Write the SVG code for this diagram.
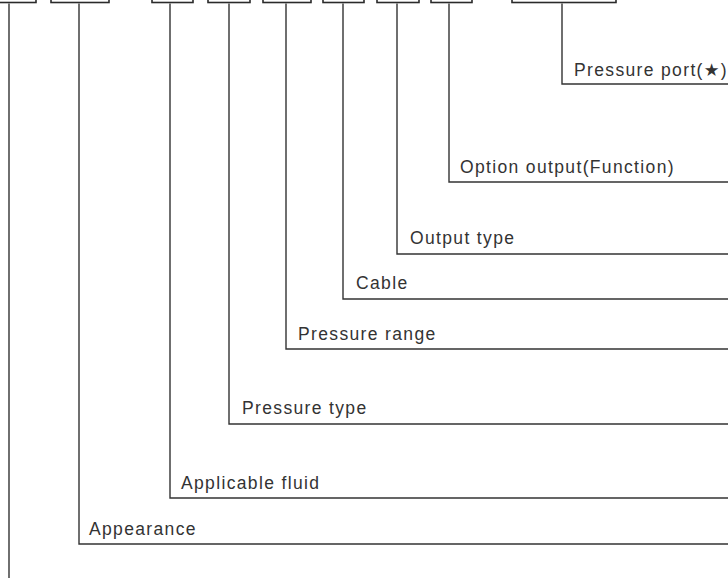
<svg xmlns="http://www.w3.org/2000/svg" width="728" height="578" viewBox="0 0 728 578">
<style>
.box{fill:#fff;stroke:#2a2a2a;stroke-width:1.6}
.ln{fill:none;stroke:#333;stroke-width:1.4}
.lbl{font-family:"Liberation Sans",Arial,"DejaVu Sans",sans-serif;font-size:17.5px;fill:#333;letter-spacing:1.35px}
</style>
<rect width="728" height="578" fill="#fff"/>
<g id="boxes">
<g id="box1"><rect class="box" x="-10" y="-20" width="46" height="22.5"/></g>
<g id="box2"><rect class="box" x="51" y="-20" width="58" height="22.5"/></g>
<g id="box3"><rect class="box" x="152" y="-20" width="41" height="22.5"/></g>
<g id="box4"><rect class="box" x="208" y="-20" width="42" height="22.5"/></g>
<g id="box5"><rect class="box" x="263" y="-20" width="48" height="22.5"/></g>
<g id="box6"><rect class="box" x="323" y="-20" width="41" height="22.5"/></g>
<g id="box7"><rect class="box" x="377" y="-20" width="42" height="22.5"/></g>
<g id="box8"><rect class="box" x="431" y="-20" width="41" height="22.5"/></g>
<g id="box9"><rect class="box" x="512" y="-20" width="104" height="22.5"/></g>
</g>
<g id="connectors">
<path class="ln" d="M9 3.5V578"/>
<path class="ln" d="M79 3.5V544H728"/>
<path class="ln" d="M170 3.5V498H728"/>
<path class="ln" d="M229 3.5V424H728"/>
<path class="ln" d="M286 3.5V349H728"/>
<path class="ln" d="M343 3.5V299H728"/>
<path class="ln" d="M397 3.5V254H728"/>
<path class="ln" d="M449 3.5V182H728"/>
<path class="ln" d="M562 3.5V84H728"/>
</g>
<g id="labels">
<g id="lbl-port"><text class="lbl" x="574" y="76">Pressure port(★)</text></g>
<g id="lbl-option"><text class="lbl" x="460" y="173">Option output(Function)</text></g>
<g id="lbl-output"><text class="lbl" x="410" y="244">Output type</text></g>
<g id="lbl-cable"><text class="lbl" x="356" y="289">Cable</text></g>
<g id="lbl-range"><text class="lbl" x="298" y="340">Pressure range</text></g>
<g id="lbl-type"><text class="lbl" x="242" y="414">Pressure type</text></g>
<g id="lbl-fluid"><text class="lbl" x="181" y="489">Applicable fluid</text></g>
<g id="lbl-appearance"><text class="lbl" x="89" y="535">Appearance</text></g>
</g>
</svg>
